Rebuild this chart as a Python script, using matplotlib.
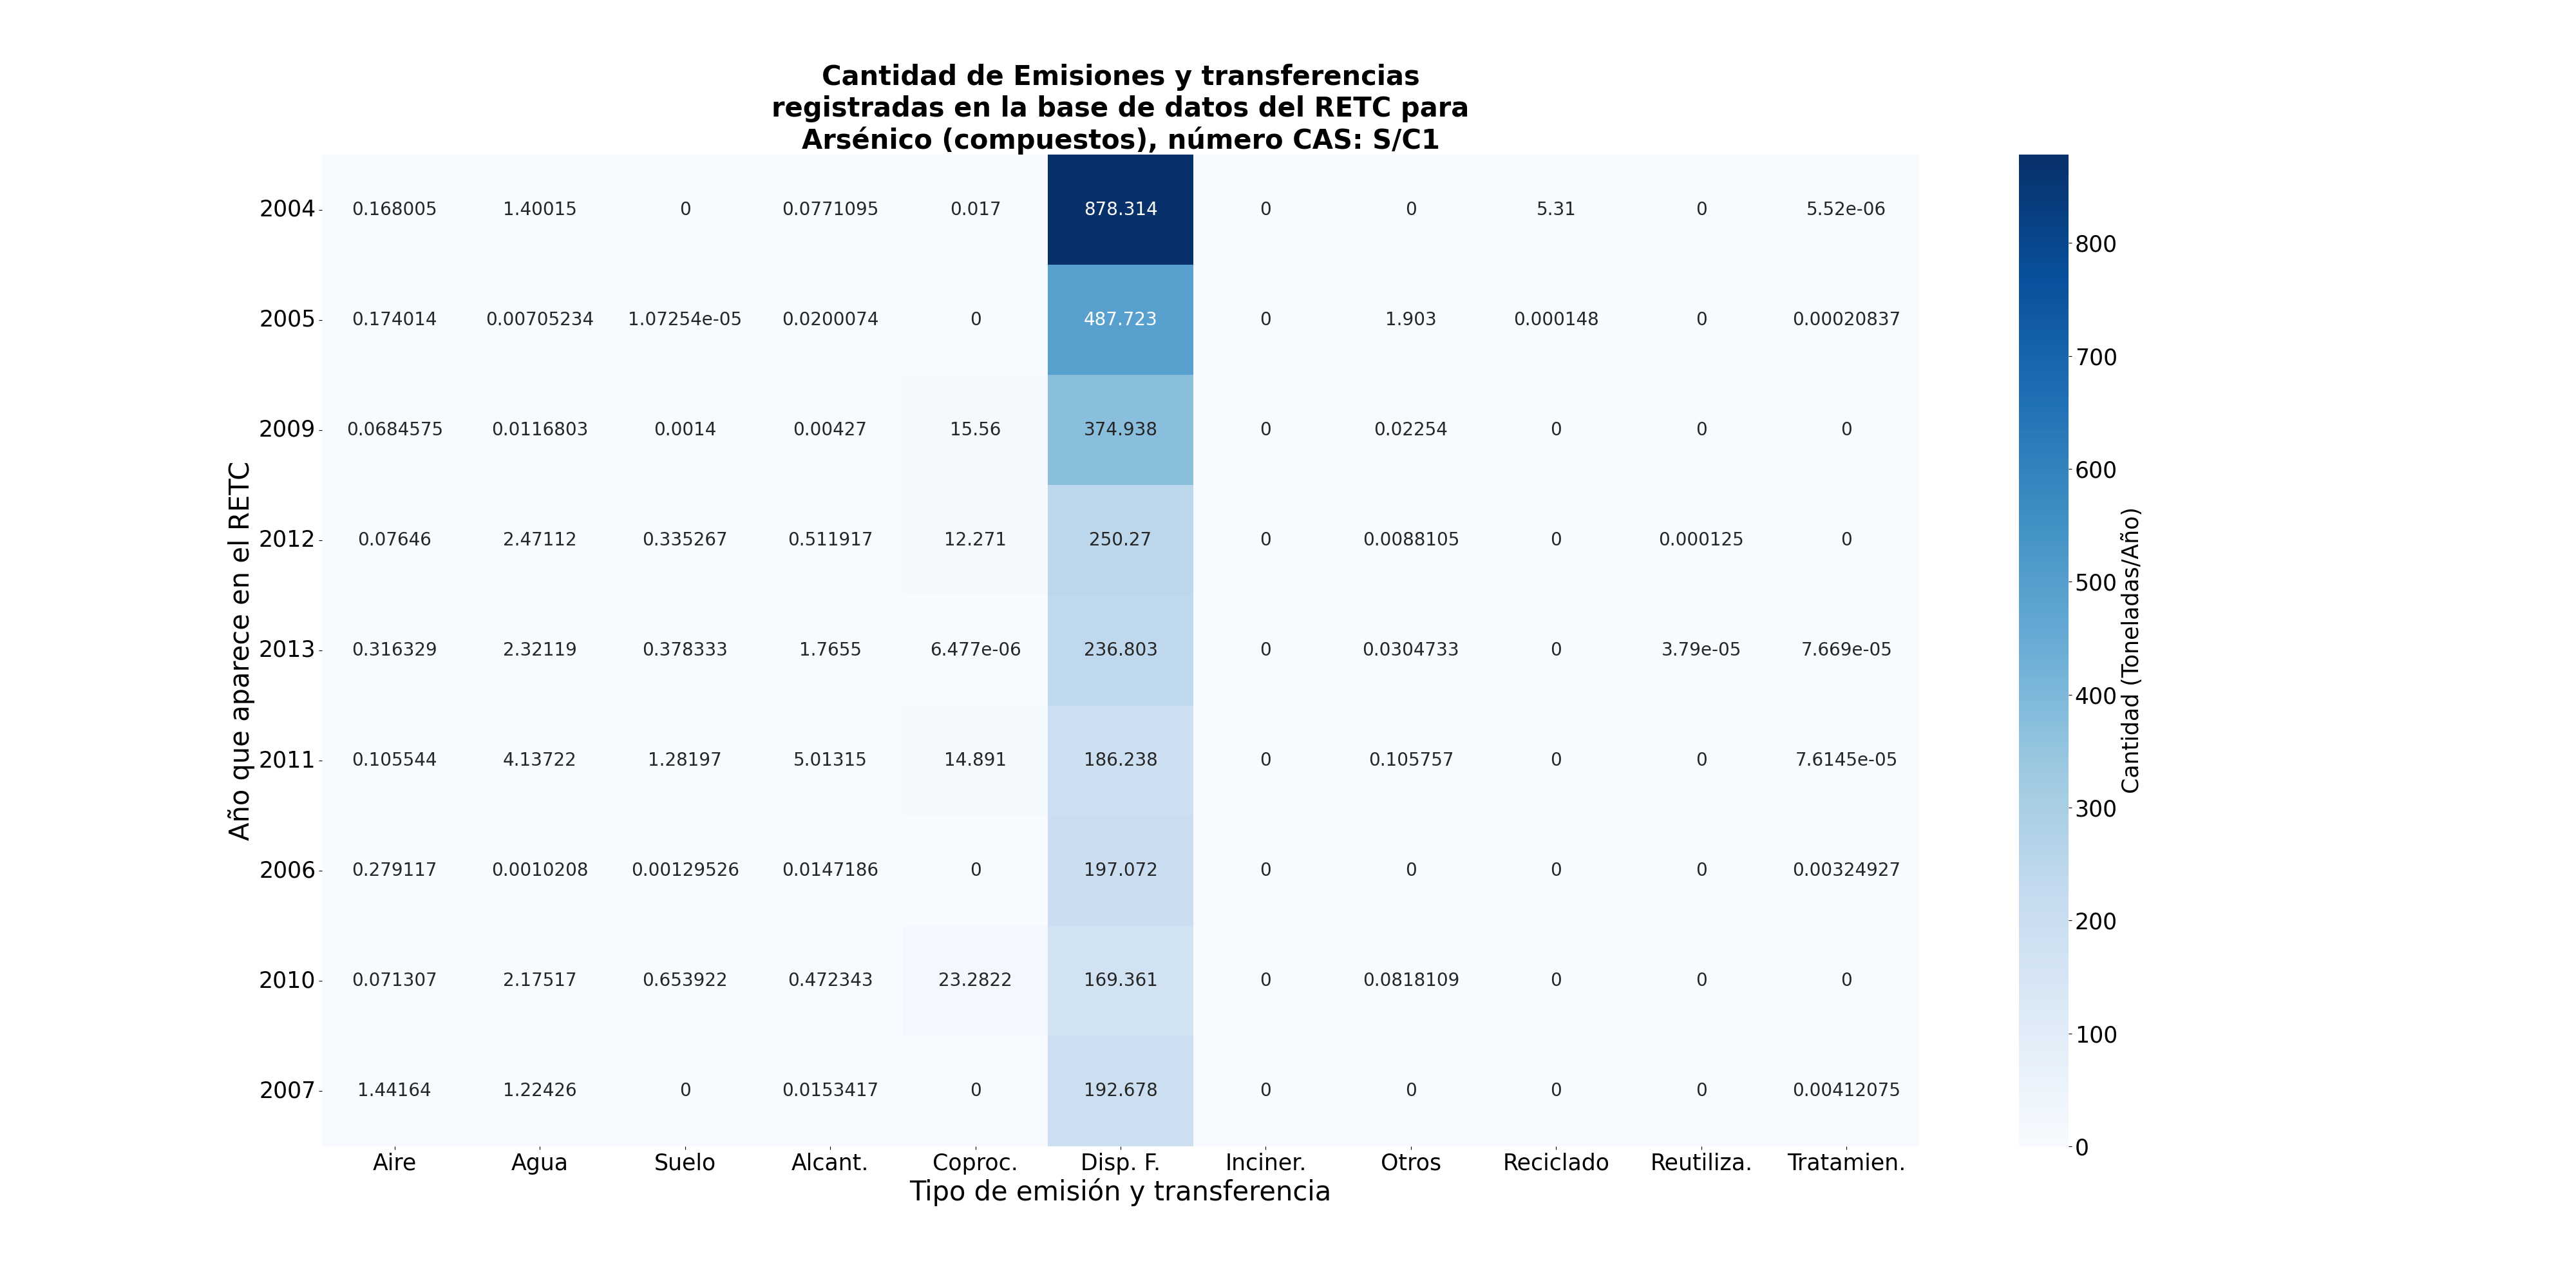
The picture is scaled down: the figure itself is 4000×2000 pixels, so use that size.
import matplotlib
matplotlib.use("Agg")
import matplotlib.pyplot as plt
import seaborn as sns
import numpy as np
import pandas as pd

years = ["2004", "2005", "2009", "2012", "2013", "2011", "2006", "2010", "2007"]
tipos = ["Aire", "Agua", "Suelo", "Alcant.", "Coproc.", "Disp. F.", "Inciner.",
         "Otros", "Reciclado", "Reutiliza.", "Tratamien."]

aire = [0.168005, 0.174014, 0.0684575, 0.07646, 0.316329, 0.105544, 0.279117, 0.071307, 1.44164]
agua = [1.40015, 0.00705234, 0.0116803, 2.47112, 2.32119, 4.13722, 0.0010208, 2.17517, 1.22426]
suelo = [0, 1.07254e-05, 0.0014, 0.335267, 0.378333, 1.28197, 0.00129526, 0.653922, 0]
alcant = [0.0771095, 0.0200074, 0.00427, 0.511917, 1.7655, 5.01315, 0.0147186, 0.472343, 0.0153417]
coproc = [0.017, 0, 15.56, 12.271, 6.477e-06, 14.891, 0, 23.2822, 0]
disp_f = [878.314, 487.723, 374.938, 250.27, 236.803, 186.238, 197.072, 169.361, 192.678]
inciner = [0, 0, 0, 0, 0, 0, 0, 0, 0]
otros = [0, 1.903, 0.02254, 0.0088105, 0.0304733, 0.105757, 0, 0.0818109, 0]
reciclado = [5.31, 0.000148, 0, 0, 0, 0, 0, 0, 0]
reutiliza = [0, 0, 0, 0.000125, 3.79e-05, 0, 0, 0, 0]
tratamien = [5.52e-06, 0.00020837, 0, 0, 7.669e-05, 7.6145e-05, 0.00324927, 0, 0.00412075]

df = pd.DataFrame(
    np.array([aire, agua, suelo, alcant, coproc, disp_f, inciner, otros,
              reciclado, reutiliza, tratamien]).T,
    index=years, columns=tipos)

fig = plt.figure(figsize=(40, 20), dpi=100)
ax = fig.add_subplot(111)
sns.heatmap(df, annot=True, fmt="g", cmap="Blues", ax=ax,
            annot_kws={"fontsize": 20},
            cbar_kws={"label": "Cantidad (Toneladas/Año)"})

ax.set_title("Cantidad de Emisiones y transferencias\nregistradas en la base de datos del RETC para\nArsénico (compuestos), número CAS: S/C1",
             fontsize=30, fontweight="bold")
ax.set_xlabel("Tipo de emisión y transferencia", fontsize=30)
ax.set_ylabel("Año que aparece en el RETC", fontsize=30)
ax.tick_params(axis="both", labelsize=25)
plt.setp(ax.get_yticklabels(), rotation=0)
plt.setp(ax.get_xticklabels(), rotation=0)

cbar = ax.collections[0].colorbar
cbar.ax.tick_params(labelsize=25)
cbar.set_label("Cantidad (Toneladas/Año)", fontsize=25)

fig.savefig("out.png", dpi=100)
